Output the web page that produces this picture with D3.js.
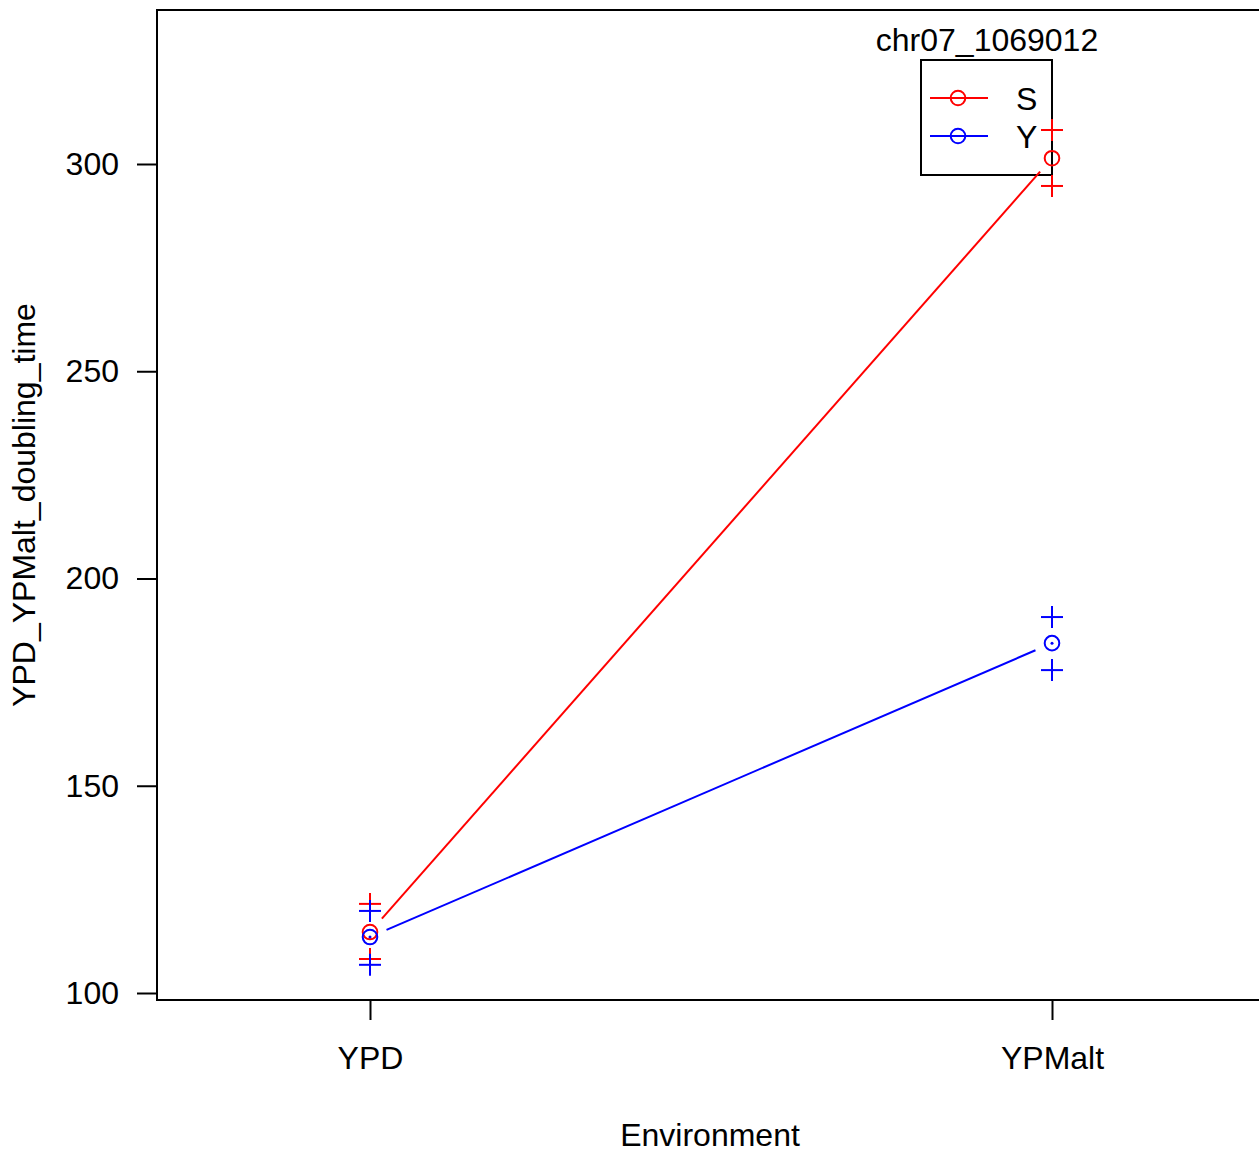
<!DOCTYPE html>
<html>
<head>
<meta charset="utf-8">
<script src="https://cdn.jsdelivr.net/npm/d3@7"></script>
<style>
html,body{margin:0;padding:0;background:#fff;}
svg{display:block;}
text{font-family:"Liberation Sans",Arial,Helvetica,sans-serif;fill:#000;}
</style>
</head>
<body>
<svg id="chart" width="1259" height="1152"></svg>
<script>
// ---- data ----
const environments = ["YPD", "YPMalt"];
const genotypes = ["S", "Y"];
const genotypeColors = ["#ff0000", "#0000ff"];
const meanS = [114.7, 301.4];
const meanY = [113.5, 184.4];
const upperS = [121.5, 308.2];
const lowerS = [108.2, 294.7];
const upperY = [119.8, 190.7];
const lowerY = [106.8, 177.9];
const yTicks = [100, 150, 200, 250, 300];
const legendTitle = "chr07_1069012";
const xLabel = "Environment";
const yLabel = "YPD_YPMalt_doubling_time";

const series = [
  {name: genotypes[0], color: genotypeColors[0], mean: meanS, upper: upperS, lower: lowerS, dot: false},
  {name: genotypes[1], color: genotypeColors[1], mean: meanY, upper: upperY, lower: lowerY, dot: true}
];

const svg = d3.select("#chart");
const box = {left: 157, top: 10, right: 1264, bottom: 1000};
const FS = 32;

const x = d3.scalePoint().domain(environments).range([370, 1052]);
const y = d3.scaleLinear().domain([100, 300]).range([993, 164]);

// plot box
svg.append("rect")
  .attr("x", box.left).attr("y", box.top)
  .attr("width", box.right - box.left).attr("height", box.bottom - box.top)
  .attr("fill", "none").attr("stroke", "#000").attr("stroke-width", 2);

// y axis
const yAxis = d3.axisLeft(y).tickValues(yTicks).tickSize(20).tickPadding(18);
const gy = svg.append("g").attr("transform", `translate(${box.left},0)`).call(yAxis);
gy.select(".domain").remove();
gy.selectAll(".tick line").attr("stroke", "#000").attr("stroke-width", 2);
gy.selectAll(".tick text").attr("font-size", FS).attr("font-family", "Liberation Sans, Arial, sans-serif").attr("fill", "#000");

// x axis
const xAxis = d3.axisBottom(x).tickSize(20).tickPadding(26);
const gx = svg.append("g").attr("transform", `translate(0,${box.bottom})`).call(xAxis);
gx.select(".domain").remove();
gx.selectAll(".tick line").attr("stroke", "#000").attr("stroke-width", 2);
gx.selectAll(".tick text").attr("font-size", FS).attr("font-family", "Liberation Sans, Arial, sans-serif").attr("fill", "#000");

// axis titles
svg.append("text").attr("x", 710).attr("y", 1146).attr("text-anchor", "middle")
  .attr("font-size", FS).text(xLabel);
svg.append("text").attr("transform", "translate(35,505) rotate(-90)").attr("text-anchor", "middle")
  .attr("font-size", FS).text(yLabel);

// legend
const lg = svg.append("g");
lg.append("text").attr("x", 987).attr("y", 51).attr("text-anchor", "middle")
  .attr("font-size", FS).text(legendTitle);
lg.append("rect").attr("x", 921).attr("y", 60).attr("width", 131).attr("height", 115)
  .attr("fill", "none").attr("stroke", "#000").attr("stroke-width", 2);
series.forEach((s, i) => {
  const ly = 98 + i * 38;
  lg.append("line").attr("x1", 930).attr("x2", 988).attr("y1", ly).attr("y2", ly)
    .attr("stroke", s.color).attr("stroke-width", 2);
  lg.append("circle").attr("cx", 958).attr("cy", ly).attr("r", 7.3)
    .attr("fill", "none").attr("stroke", s.color).attr("stroke-width", 2);
  lg.append("text").attr("x", 1016).attr("y", ly + 12).attr("font-size", FS).text(s.name);
});

// lines with gaps (type = "b")
const gap = 18;
series.forEach(s => {
  for (let i = 0; i < environments.length - 1; i++) {
    const x0 = x(environments[i]), y0 = y(s.mean[i]);
    const x1 = x(environments[i + 1]), y1 = y(s.mean[i + 1]);
    const len = Math.hypot(x1 - x0, y1 - y0);
    const ux = (x1 - x0) / len, uy = (y1 - y0) / len;
    svg.append("line")
      .attr("x1", x0 + ux * gap).attr("y1", y0 + uy * gap)
      .attr("x2", x1 - ux * gap).attr("y2", y1 - uy * gap)
      .attr("stroke", s.color).attr("stroke-width", 2);
  }
});

// points: mean circles and +/- crosses
const arm = 11;
series.forEach(s => {
  environments.forEach((e, i) => {
    const cx = x(e);
    svg.append("circle").attr("cx", cx).attr("cy", y(s.mean[i])).attr("r", 7.3)
      .attr("fill", "none").attr("stroke", s.color).attr("stroke-width", 2);
    if (s.dot) {
      svg.append("circle").attr("cx", cx).attr("cy", y(s.mean[i])).attr("r", 1.5).attr("fill", s.color);
    }
    [s.upper[i], s.lower[i]].forEach(v => {
      const cy = y(v);
      svg.append("line").attr("x1", cx - arm).attr("x2", cx + arm).attr("y1", cy).attr("y2", cy)
        .attr("stroke", s.color).attr("stroke-width", 2);
      svg.append("line").attr("x1", cx).attr("x2", cx).attr("y1", cy - arm).attr("y2", cy + arm)
        .attr("stroke", s.color).attr("stroke-width", 2);
    });
  });
});
</script>
</body>
</html>
